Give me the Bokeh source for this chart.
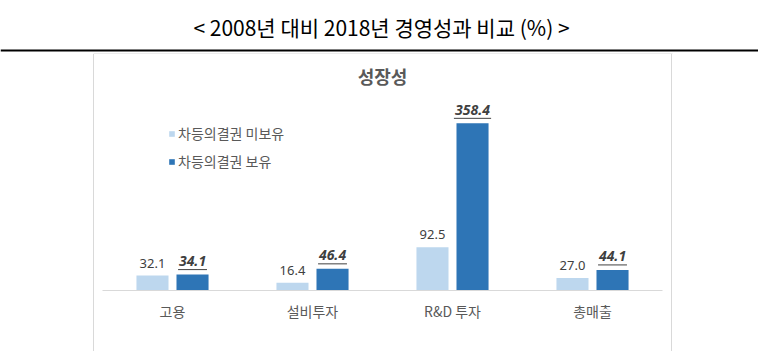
from bokeh.plotting import figure
from bokeh.layouts import column, row
from bokeh.models import (Range1d, FixedTicker, Legend, LegendItem, Spacer,
                          ColumnDataSource)
from bokeh.core.properties import value
from bokeh.embed import file_html
from bokeh.resources import INLINE

# ---------------- data ----------------
title_text = "< 2008년 대비 2018년 경영성과 비교 (%) >"
chart_title = "성장성"
categories = ["고용", "설비투자", "R&D 투자", "총매출"]
series_names = ["차등의결권 미보유", "차등의결권 보유"]
without_dual = [32.1, 16.4, 92.5, 27.0]
with_dual = [34.1, 46.4, 358.4, 44.1]

# ---------------- styles ----------------
LIGHT = "#BDD7EE"
DARK = "#2E75B6"
GRAY_TXT = "#595959"
LBL_TXT = "#404040"
BOX = "#D9D9D9"
KR = "Noto Sans CJK KR"
NUM = "Noto Sans"

FRAME_W, FRAME_H = 560, 236
Y_MAX = 506.0
PX_PER_UNIT = FRAME_H / Y_MAX
PX_PER_CAT = FRAME_W / len(categories)
OFFSET = 0.143
BAR_W = 0.229

# ---------------- top banner ----------------
top = figure(width=758, height=54, x_range=Range1d(0, 758), y_range=Range1d(54, 0),
             output_backend="svg", toolbar_location=None, min_border=0,
             x_axis_location=None, y_axis_location=None)
top.grid.visible = False
top.outline_line_color = None
top.background_fill_color = "white"
top.border_fill_color = "white"
top.text(x=[381], y=[26], text=[title_text], text_font=value(KR),
         text_font_size="21px", text_align="center", text_baseline="middle",
         text_color="#000000")
top.segment(x0=[0], y0=[50], x1=[758], y1=[50], line_color="black", line_width=2)
top.segment(x0=[93], y0=[53.5], x1=[672], y1=[53.5], line_color=BOX, line_width=1)

# ---------------- chart ----------------
n = len(categories)
centers = [i + 0.5 for i in range(n)]
x_light = [c - OFFSET for c in centers]
x_dark = [c + OFFSET for c in centers]
lbl_light = [f"{v:.1f}" for v in without_dual]
lbl_dark = [f"{v:.1f}" for v in with_dual]

def text_w_units(s):
    digits = sum(ch.isdigit() for ch in s)
    px = 8.3 * digits + 4.0
    return px / PX_PER_CAT

ul_half = [text_w_units(s) / 2 for s in lbl_dark]
src = ColumnDataSource(dict(
    x_light=x_light, x_dark=x_dark,
    without=without_dual, with_=with_dual,
    lbl_light=lbl_light, lbl_dark=lbl_dark,
    ul_x0=[x - h for x, h in zip(x_dark, ul_half)],
    ul_x1=[x + h for x, h in zip(x_dark, ul_half)],
    ul_y=[v + 5.0 / PX_PER_UNIT for v in with_dual],
))

p = figure(width=577, height=297, x_range=Range1d(0, n), y_range=Range1d(0, Y_MAX),
           output_backend="svg", toolbar_location=None,
           min_border_left=8, min_border_right=9, min_border_top=0, min_border_bottom=61,
           y_axis_location=None)
p.grid.visible = False
p.outline_line_color = None
p.background_fill_color = "white"
p.border_fill_color = "white"

r1 = p.vbar(x="x_light", top="without", width=BAR_W, source=src,
            fill_color=LIGHT, line_color=None)
r2 = p.vbar(x="x_dark", top="with_", width=BAR_W, source=src,
            fill_color=DARK, line_color=None)

p.text(x="x_light", y="without", text="lbl_light", source=src,
       text_font=value(NUM), text_font_size="13px", text_color=LBL_TXT,
       text_align="center", text_baseline="middle", y_offset=-12.5)
p.text(x="x_dark", y="with_", text="lbl_dark", source=src,
       text_font=value(NUM), text_font_size="14px", text_font_style="bold italic",
       text_color=LBL_TXT, text_align="center", text_baseline="middle", y_offset=-13.5)
p.segment(x0="ul_x0", y0="ul_y", x1="ul_x1", y1="ul_y", source=src,
          line_color=LBL_TXT, line_width=1)

p.text(x=[n / 2], y=[(FRAME_H - 21) / PX_PER_UNIT], text=[chart_title],
       text_font=value(KR), text_font_size="18px", text_font_style="bold",
       text_color=GRAY_TXT, text_align="center", text_baseline="middle")

ax = p.xaxis[0]
ax.ticker = FixedTicker(ticks=centers)
ax.major_label_overrides = {c: cat for c, cat in zip(centers, categories)}
ax.axis_line_color = BOX
ax.major_tick_line_color = None
ax.minor_tick_line_color = None
ax.major_label_text_font = KR
ax.major_label_text_font_size = "14px"
ax.major_label_text_color = GRAY_TXT
ax.major_label_standoff = 4

legend = Legend(items=[LegendItem(label=series_names[0], renderers=[r1]),
                       LegendItem(label=series_names[1], renderers=[r2])],
                location=(66, 117), orientation="vertical", padding=0, margin=0,
                spacing=4, label_height=24, glyph_width=7, glyph_height=7,
                label_standoff=3, border_line_color=None, background_fill_alpha=0,
                label_text_font=KR, label_text_font_size="14px",
                label_text_color=GRAY_TXT)
p.add_layout(legend)

left_line = Spacer(width=1, height=297, styles={"background-color": BOX})
right_line = Spacer(width=1, height=297, styles={"background-color": BOX})
layout = column(top, row(Spacer(width=93, height=297), left_line, p, right_line))

open("out.html", "w").write(file_html(layout, INLINE))
